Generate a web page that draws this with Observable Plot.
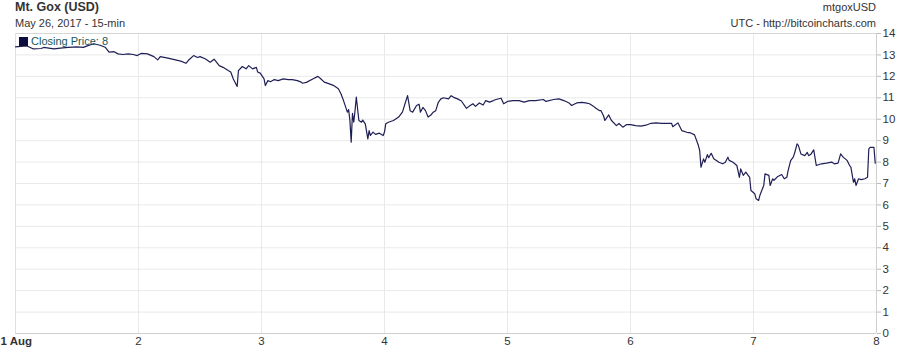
<!DOCTYPE html>
<html>
<head>
<meta charset="utf-8">
<script src="https://cdn.jsdelivr.net/npm/d3@7"></script>
<script src="https://cdn.jsdelivr.net/npm/@observablehq/plot@0.6"></script>
<style>
  body { margin: 0; background: #fff; }
  #wrap { position: relative; width: 901px; height: 350px; font-family: "Liberation Sans", Arial, sans-serif; color: #333; }
  .t { position: absolute; white-space: nowrap; }
  #chart { position: absolute; left: 0; top: 0; }
</style>
</head>
<body>
<div id="wrap">
  <div id="chart"></div>
  <div class="t" style="left:15px; top:0px; font-size:12.5px; font-weight:bold; color:#333;">Mt. Gox (USD)</div>
  <div class="t" style="left:15px; top:17px; font-size:11px; color:#333;">May 26, 2017 - 15-min</div>
  <div class="t" style="right:25px; top:1px; font-size:11px; color:#333;">mtgoxUSD</div>
  <div class="t" style="right:25px; top:17px; font-size:11px; color:#333;">UTC - http://bitcoincharts.com</div>
  <div class="t" style="left:19px; top:35px; font-size:11px; color:#145a5a;"><span style="display:inline-block;width:9px;height:9px;background:#0d0d3d;vertical-align:-1px;margin-right:3px;"></span>Closing Price: 8</div>
</div>
<script>
// hours since 1 Aug 00:00 UTC
const hours = [0,1,2.25,3.5,5,5.5,7.5,8.75,10.25,12,13.25,14,15.25,16.5,17.5,18.25,19.25,20,21,22,23,23.75,24.5,25.75,27,27.75,28.25,29.75,31,32.25,33.25,33.75,34.75,35.5,36,37,38,38.75,39.75,40.5,41.5,42,42.5,43.25,43.5,44.25,45,45.5,46.25,47,47.25,47.75,48.5,48.75,49.25,49.75,50.5,51.25,52.25,53.25,54,55,55.75,
56,56.75,58,59,59.5,60.25,61.25,62,63,63.5,64,64.75,65,65.25,65.5,65.75,66,66.25,66.5,67,67.5,67.75,68.25,68.75,69,69.25,69.75,70.25,71,71.75,72,72.25,72.75,73.75,74.25,74.75,75.5,76,76.5,77,77.5,78.25,78.75,79,79.5,80,80.5,81,81.5,82,82.5,83,83.5,84.5,85,85.5,86.25,
87,88,88.5,89.25,89.75,90.5,91.25,91.75,92.5,93.25,93.75,94.75,95.25,96,97,98.25,99.25,100.25,101.5,103,103.5,105,106,107,108,108.5,109.5,110.5,111.25,112,112.75,113.25,114,114.25,114.75,115,115.75,116.25,117.25,117.75,118.5,119.25,120,121,122,123,124,125,126,128,128.25,129.25,130,131,131.75,132.5,
133.25,133.5,133.75,134.25,134.5,135,135.25,135.75,136.25,137.25,138,138.5,139,139.25,140,140.75,141.25,141.5,142,142.5,143.25,143.5,144.25,144.5,145,145.25,146,146.25,147,147.25,147.75,148,148.75,149.5,150,150.5,150.75,151.25,151.75,152,152.5,152.75,153.25,154,154.5,154.75,155.25,155.75,156.25,157.25,158.25,159.25,159.75,160.5,161,161.5,162.25,162.75,163,163.5,163.75,164,164.5,165,165.75,166.25,166.5,166.75,167.5,167.75];
const price = [13.38,13.40,13.42,13.28,13.30,13.35,13.28,13.32,13.35,13.38,13.35,13.42,13.52,13.45,13.36,13.13,13.15,13.05,13.02,13.05,13.02,12.97,13.07,13.05,12.92,12.77,12.92,12.85,12.78,12.71,12.61,12.75,12.97,12.88,12.92,12.82,12.66,12.80,12.50,12.42,12.27,12.20,11.88,11.53,12.27,12.46,12.35,12.50,12.35,12.42,12.20,12.15,11.88,11.57,11.80,11.75,11.85,11.80,11.88,11.85,11.85,11.80,11.73,
11.68,11.72,11.88,12.00,11.90,11.73,11.65,11.58,11.42,11.19,10.87,10.33,10.45,9.94,8.93,10.27,9.86,10.40,11.03,9.94,9.86,9.96,9.78,9.08,9.47,9.24,9.40,9.29,9.35,9.24,9.40,9.79,9.86,9.94,10.02,10.10,10.33,10.72,11.10,10.40,10.33,10.64,10.70,10.33,10.55,10.40,10.10,10.18,10.33,10.40,10.79,10.95,11.00,10.95,11.10,11.02,10.95,
10.85,10.51,10.60,10.72,10.60,10.76,10.66,10.87,10.80,10.87,10.92,10.98,10.72,10.83,10.87,10.87,10.80,10.87,10.87,10.92,10.83,10.92,10.95,10.87,10.76,10.64,10.76,10.79,10.76,10.72,10.61,10.51,10.40,10.40,10.15,9.94,10.20,9.95,9.70,9.80,9.63,9.75,9.75,9.70,9.68,9.72,9.81,9.83,9.81,9.81,9.65,9.83,9.47,9.39,9.36,9.27,
8.77,8.54,7.76,8.15,7.99,8.35,8.20,8.41,8.15,7.99,7.92,7.99,8.23,8.08,7.99,7.84,7.29,7.68,7.38,7.53,7.29,6.67,6.52,6.29,6.21,6.45,6.91,7.45,7.38,6.91,7.22,7.15,7.33,7.42,7.22,7.29,7.60,8.07,8.23,8.40,8.85,8.78,8.38,8.30,8.45,8.30,8.38,8.57,7.84,7.92,7.95,8.00,7.92,7.95,8.38,8.23,8.08,7.84,7.76,7.06,7.22,6.91,7.22,7.18,7.22,7.29,8.62,8.69,8.69,7.95];

const xTicks = [0, 24, 48, 72, 96, 120, 144, 168];
const xLabels = ["1 Aug", "2", "3", "4", "5", "6", "7", "8"];
const yTicks = [0,1,2,3,4,5,6,7,8,9,10,11,12,13,14];

const data = hours.map((h, i) => ({h, p: price[i]}));

const chart = Plot.plot({
  width: 901,
  height: 350,
  marginLeft: 15,
  marginRight: 25,
  marginTop: 33,
  marginBottom: 17,
  style: {fontFamily: "'Liberation Sans', Arial, sans-serif", fontSize: "11px", color: "#333", background: "#fff", overflow: "visible"},
  x: {domain: [0, 168], axis: null},
  y: {domain: [0, 14], axis: null},
  marks: [
    Plot.gridX(xTicks, {stroke: "#e9e9e9", strokeOpacity: 1}),
    Plot.gridY(yTicks, {stroke: "#e9e9e9", strokeOpacity: 1}),
    Plot.ruleY([14], {stroke: "#d6d6d6"}),
    Plot.ruleX([0], {stroke: "#e0e0e0"}),
    Plot.ruleY([0], {stroke: "#cfcfcf"}),
    Plot.ruleX([168], {stroke: "#cfcfcf"}),
    Plot.line(data, {x: "h", y: "p", stroke: "#1f1f55", strokeWidth: 1.2}),
    Plot.axisY(yTicks, {anchor: "right", tickSize: 4, tickPadding: 2, stroke: "#bbb", fill: "#333", fontSize: 11.5, label: null}),
    Plot.axisX(xTicks.slice(1), {anchor: "bottom", tickSize: 0, tickPadding: 3, fill: "#333", fontSize: 11.5, tickFormat: d => xLabels[xTicks.indexOf(d)], label: null}),
    Plot.axisX([0], {anchor: "bottom", tickSize: 0, tickPadding: 3, fill: "#333", fontSize: 11.5, fontWeight: "bold", textAnchor: "start", dx: -15, tickFormat: d => xLabels[xTicks.indexOf(d)], label: null})
  ]
});
document.getElementById("chart").appendChild(chart);
</script>
</body>
</html>
